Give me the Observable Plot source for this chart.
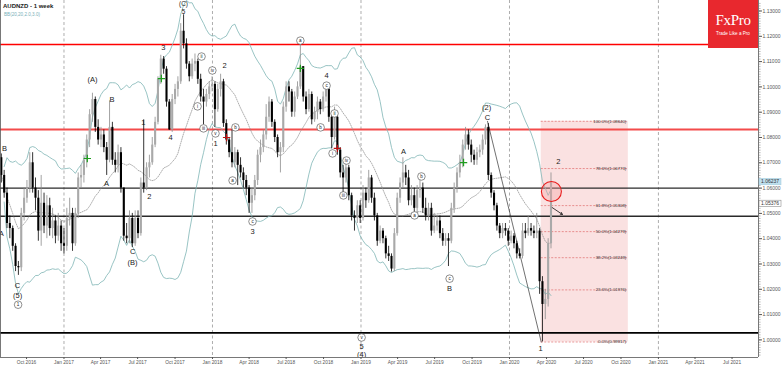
<!DOCTYPE html>
<html><head><meta charset="utf-8">
<script src="https://cdn.jsdelivr.net/npm/d3@7"></script>
<script src="https://cdn.jsdelivr.net/npm/@observablehq/plot@0.6"></script>
<style>
body{margin:0;background:#fff;}
#wrap{position:relative;width:782px;height:366px;overflow:hidden;font-family:"Liberation Sans",Arial,sans-serif;}
#logo{position:absolute;left:708px;top:0;width:50px;height:48px;background:#e8282e;color:#fff;text-align:center;}
#logo .b{font-family:"Liberation Serif","DejaVu Serif",serif;font-size:15px;margin-top:13px;line-height:15px;letter-spacing:-0.3px;}
#logo .s{font-size:4.6px;margin-top:3px;}
</style></head><body><div id="wrap"><div id="logo"><div class="b">FxPro</div><div class="s">Trade Like a Pro</div></div></div>
<script>
// ---- data (weekly AUDNZD, prices x 10000) ----
const symbolTitle = "AUDNZD - 1 week";
const indicatorTitle = "BB(20,20,2.0,3.0)";
const firstWeek = "2016-07-31";
const firstOpen = 10720;
const closePips = [
10650,10580,10460,10440,10370,10290,10285,10500,10560,10600,
10700,10600,10560,10430,10540,10450,10530,10440,10470,10410,
10450,10380,10370,10480,10500,10380,10500,10640,10650,10710,
10790,10890,10950,10840,10790,10810,10760,10710,10840,10710,
10690,10740,10600,10410,10400,10480,10380,10480,10420,10620,
10600,10680,10700,10770,10860,11030,11110,11070,10940,10830,
10950,10990,11020,11220,11170,11090,11040,11090,11100,11030,
10960,10940,10970,11000,11010,10910,10990,11020,10855,10790,
10740,10700,10740,10690,10660,10630,10600,10540,10570,10630,
10730,10760,10810,10880,10940,10860,10800,10740,10760,10920,
11000,10980,10900,10960,11000,11080,10960,10910,10970,10870,
10900,10940,10910,10960,10990,10880,10800,10880,10750,10660,
10640,10680,10570,10490,10480,10530,10480,10580,10550,10640,
10560,10490,10390,10430,10400,10340,10330,10280,10420,10560,
10620,10660,10640,10550,10570,10520,10590,10600,10520,10490,
10520,10430,10450,10470,10420,10390,10400,10390,10520,10600,
10660,10700,10770,10810,10770,10730,10710,10740,10750,10790,
10840,10650,10580,10530,10450,10420,10440,10430,10390,10410,
10380,10340,10330,10430,10420,10440,10430,10420,10430,10230,
10140,10160,10380,10624];
const highPips = [
10735,10670,10600,10490,10450,10380,10310,10520,10600,10630,
10740,10740,10640,10590,10650,10580,10570,10560,10520,10490,
10500,10470,10440,10520,10560,10520,10520,10660,10690,10730,
10810,10910,10975,10960,10870,10840,10830,10780,10945,10860,
10740,10770,10760,10600,10460,10510,10500,10510,10510,10640,
10870,10700,10730,10800,10880,11040,11125,11120,11080,10950,
10970,11010,11040,11250,11285,11190,11100,11110,11130,11110,
11050,10990,10990,11020,11040,11020,11010,11050,11030,10870,
10800,10830,10760,10750,10720,10680,10650,10610,10600,10650,
10750,10790,10830,10930,10960,10950,10870,10810,10780,10940,
11020,11020,10990,10980,11020,11170,11080,10980,10990,10980,
10920,10960,10950,10980,11000,11000,10900,10920,10890,10760,
10690,10720,10690,10580,10510,10550,10550,10610,10600,10670,
10650,10580,10500,10450,10440,10410,10370,10340,10440,10580,
10640,10720,10690,10670,10610,10600,10610,10640,10620,10560,
10540,10540,10500,10490,10490,10440,10420,10420,10540,10620,
10680,10730,10790,10840,10830,10790,10750,10760,10770,10810,
10850,10855,10660,10590,10540,10460,10460,10460,10440,10430,
10420,10390,10360,10460,10460,10490,10460,10450,10500,10440,
10250,10200,10400,10660];
const lowPips = [
10620,10560,10440,10400,10350,10270,10255,10270,10470,10540,
10580,10580,10510,10390,10370,10420,10400,10410,10400,10380,
10390,10350,10340,10350,10450,10350,10370,10480,10600,10620,
10680,10760,10860,10820,10770,10760,10740,10650,10700,10690,
10660,10660,10580,10390,10380,10380,10365,10370,10400,10410,
10580,10590,10640,10690,10760,10850,11010,11050,10920,10828,
10820,10930,10960,11010,11150,11070,11020,11030,11060,11010,
10940,10850,10920,10950,10980,10840,10900,10960,10840,10770,
10720,10680,10680,10610,10640,10600,10570,10500,10500,10550,
10610,10700,10740,10790,10860,10840,10780,10720,10660,10740,
10900,10940,10880,10880,10950,10990,10940,10890,10900,10850,
10860,10870,10890,10900,10940,10860,10755,10790,10730,10640,
10580,10620,10550,10470,10430,10460,10460,10470,10520,10540,
10540,10470,10370,10380,10380,10320,10310,10268,10270,10410,
10540,10600,10610,10530,10530,10490,10500,10560,10500,10470,
10470,10410,10420,10430,10400,10370,10370,10290,10380,10500,
10580,10640,10680,10750,10750,10700,10690,10690,10720,10730,
10770,10630,10560,10510,10430,10400,10400,10410,10370,10380,
10360,10320,10320,10320,10400,10410,10410,10400,10400,10180,
9992,10080,10130,10360];

const resistanceRed = [1.11676, 1.08316];
const levelsBlack = [1.05997, 1.0489];
const bottomLevel = 1.00281;

const fibRatios = [1.0, 0.786, 0.618, 0.5, 0.382, 0.236, 0.0];
const fibPrices = [1.08640, 1.06773, 1.05308, 1.04279, 1.03249, 1.01976, 0.99917];
const fibStart = "2020-03-19", fibEnd = "2020-10-19";
const trendStart = ["2019-11-08", 1.0864];

// [text, week index, price]
const waveLabels = [
 ["B",1.1,1.0757],["A",0,1.0421],["C",5.7,1.0215],["(5)",5.7,1.0175],["(A)",32,1.1029],["B",38.9,1.0950],
 ["A",36.9,1.0618],["C",46.1,1.0349],["(B)",46.1,1.0306],["1",49.9,1.0859],["2",52,1.0567],["3",56.9,1.1156],
 ["4",59.4,1.0800],["1",75.2,1.0776],["2",78.4,1.1085],["3",88.2,1.0428],
 ["4",114.2,1.1045],["5",126.5,0.99739],["(4)",126.5,0.99420],["A",141.2,1.0745],["B",157.4,1.0203],
 ["(2)",170.4,1.0918],["C",170.7,1.0879],["2",195.6,1.0705],["1",189.3,0.99656]
];
const topLabels = [["5",63.96,1.12957],["(C)",63.96,1.13273]];
const circledLabels = [
 ["1",5.9,1.0139],["ii",70.3,1.1120],["i",68.9,1.0923],["iii",71,1.0836],["iv",74.1,1.1065],["v",75.2,1.0816],
 ["b",82.2,1.0840],["a",81.2,1.0630],["c",88.2,1.0468],["a",105,1.1183],["c",114.2,1.1005],["b",112.1,1.0840],
 ["ii",117,1.0895],["i",116.3,1.0737],["iv",121.2,1.0709],["iii",120.1,1.0571],["v",126.5,1.00095],
 ["b",147.5,1.0646],["a",145.1,1.0492],["c",157.4,1.0242]
];
const greenMarks = [[30.2,1.0717],[56.2,1.1033],[105,1.1073],[162.3,1.0701]];
const redMarks = [[79.1,1.0800],[118.0,1.0757]];
const circleMark = ["2020-04-13", 1.05866];
const arrowMark = [["2020-04-15", 1.0523], ["2020-05-10", 1.0496]];
const priceTags = [1.06237, 1.05376];
const yearStarts = ["2017-01-01","2018-01-01","2019-01-01","2020-01-01","2021-01-01"];
const quarterTicks = ["2016-10-01","2017-01-01","2017-04-01","2017-07-01","2017-10-01","2018-01-01","2018-04-01","2018-07-01","2018-10-01","2019-01-01","2019-04-01","2019-07-01","2019-10-01","2020-01-01","2020-04-01","2020-07-01","2020-10-01","2021-01-01","2021-04-01","2021-07-01"];
const yTicks = [1.00,1.01,1.02,1.03,1.04,1.05,1.06,1.07,1.08,1.09,1.10,1.11,1.12,1.13];

// ---- build ----
const t0 = new Date(firstWeek);
const weekDate = i => new Date(t0.getTime() + i * 7 * 864e5);
const weeks = closePips.map((c, i) => ({
  date: weekDate(i),
  open: (i ? closePips[i - 1] : firstOpen) / 1e4,
  high: highPips[i] / 1e4, low: lowPips[i] / 1e4, close: c / 1e4
}));
weeks.forEach(d => d.up = d.close >= d.open);
const toPt = ([t, i, p]) => ({t, date: weekDate(i), p});
const waves = waveLabels.map(toPt);
const tops = topLabels.map(toPt);
const circ = circledLabels.map(toPt);
const bbBand = k => v => {
  const n = v.length; if (n < 2) return NaN;
  const m = d3.mean(v); const sd = Math.sqrt(d3.sum(v, x => (x - m) ** 2) / n);
  return m + k * sd;
};
const fib = fibRatios.map((r, j) => ({r, p: fibPrices[j], label: `${(r * 100).toFixed(1)}%(${fibPrices[j].toFixed(5)})`}));
const minorY = d3.range(994, 1134).map(v => v / 1000);
const yMin = 0.99304, yMax = 1.13415;
const xMin = new Date("2016-07-29"), xMax = new Date("2021-09-04");

const chart = Plot.plot({
  width: 782, height: 366,
  marginLeft: 0, marginRight: 24, marginTop: 0, marginBottom: 9,
  style: {fontFamily: "'Liberation Sans', Arial, sans-serif", background: "transparent", overflow: "visible"},
  x: {type: "utc", domain: [xMin, xMax]},
  y: {domain: [yMin, yMax]},
  marks: [
    Plot.rect([0], {x1: () => new Date(fibStart), x2: () => new Date(fibEnd), y1: () => fibPrices[6], y2: () => fibPrices[0], fill: "#f2b8b8", fillOpacity: 0.42}),
    Plot.ruleY(fib, {y: "p", x1: () => new Date(fibStart), x2: () => new Date(fibEnd), stroke: "#e06a6a", strokeWidth: 0.7, strokeDasharray: "2,1.5"}),
    Plot.ruleX(yearStarts.map(d => new Date(d)), {stroke: "#8a8a8a", strokeWidth: 0.7, strokeDasharray: "3,2.5"}),
    Plot.ruleY([resistanceRed[0]], {stroke: "#ff0000", strokeWidth: 1.4}),
    Plot.ruleY([resistanceRed[1]], {stroke: "#f34b4b", strokeWidth: 2}),
    Plot.ruleY(levelsBlack, {stroke: "#2a2a2a", strokeWidth: 1.4}),
    Plot.ruleY([bottomLevel], {stroke: "#000", strokeWidth: 1.8}),
    Plot.lineY(weeks, Plot.windowY({k: 20, anchor: "end", reduce: bbBand(2)}, {x: "date", y: "close", stroke: "#7fb5b5", strokeWidth: 0.8})),
    Plot.lineY(weeks, Plot.windowY({k: 20, anchor: "end", reduce: bbBand(-2)}, {x: "date", y: "close", stroke: "#7fb5b5", strokeWidth: 0.8})),
    Plot.lineY(weeks, Plot.windowY({k: 20, anchor: "end", reduce: "mean"}, {x: "date", y: "close", stroke: "#8a8a8a", strokeWidth: 0.7, strokeDasharray: "1,1.3"})),
    Plot.line([trendStart, [fibStart, fibPrices[6]]], {x: d => new Date(d[0]), y: d => d[1], stroke: "#333", strokeWidth: 0.7}),
    Plot.ruleX(weeks, {x: "date", y1: "low", y2: "high", stroke: d => d.up ? "#8c8c8c" : "#000", strokeWidth: 0.8}),
    Plot.ruleX(weeks, {x: "date", y1: "open", y2: "close", stroke: d => d.up ? "#a9a9a9" : "#000", strokeWidth: 2.1}),
    Plot.dot(greenMarks, {x: d => weekDate(d[0]), y: d => d[1], symbol: "plus", r: 2.5, stroke: "#1f9e1f", strokeWidth: 1.2}),
    Plot.dot(redMarks, {x: d => weekDate(d[0]), y: d => d[1], symbol: "plus", r: 2.5, stroke: "#c01010", strokeWidth: 1.2}),
    Plot.dot([circleMark], {x: d => new Date(d[0]), y: d => d[1], r: 10, stroke: "#e81c1c", strokeWidth: 1.1, fill: "#f7a0a0", fillOpacity: 0.35}),
    Plot.arrow([arrowMark], {x1: d => new Date(d[0][0]), y1: d => d[0][1], x2: d => new Date(d[1][0]), y2: d => d[1][1], stroke: "#111", strokeWidth: 0.8, headLength: 4}),
    Plot.dot(circ, {x: "date", y: "p", r: 3.8, fill: "#fff", stroke: "#444", strokeWidth: 0.6}),
    Plot.text(circ, {x: "date", y: "p", text: "t", fontSize: 4.6, fill: "#222"}),
    Plot.text(waves, {x: "date", y: "p", text: "t", fontSize: 7.5, fill: "#1a1a1a", clip: true}),
    Plot.text(tops, {x: "date", y: "p", text: "t", fontSize: 6.4, fill: "#1a1a1a"}),
    Plot.text(fib, {x: () => new Date(fibEnd), y: "p", text: "label", dx: -2, textAnchor: "end", fontSize: 4.3, fill: "#333", className: "fiblab"}),
    Plot.axisY({anchor: "right", ticks: minorY, tickSize: 1.6, tickFormat: () => "", stroke: "#777", strokeWidth: 0.5}),
    Plot.axisY({anchor: "right", ticks: yTicks, tickSize: 3, tickPadding: 1, tickFormat: d3.format(".5f"), fontSize: 5, color: "#555"}),
    Plot.axisX({ticks: quarterTicks.map(d => new Date(d)), tickSize: 2, tickPadding: 1, tickFormat: d3.utcFormat("%b %Y"), fontSize: 4.8, color: "#555"}),
    Plot.ruleY([yMin], {stroke: "#555", strokeWidth: 0.8}),
    Plot.ruleX([xMin, xMax], {stroke: "#555", strokeWidth: 0.8})
  ]
});
const wrap = document.getElementById("wrap");
wrap.insertBefore(chart, wrap.firstChild);
const svg = d3.select(chart);
const Y = chart.scale("y");

// boxes behind fib labels
svg.selectAll(".fiblab text").each(function () {
  const b = this.getBBox();
  d3.select(this.parentNode).insert("rect", () => this)
    .attr("x", b.x - 1).attr("y", b.y - 0.3).attr("width", b.width + 2).attr("height", b.height + 0.6)
    .attr("rx", 1.2).attr("fill", "#fff5f5").attr("stroke", "#e58a8a").attr("stroke-width", 0.5);
});
// price tags on the right axis
priceTags.forEach((p, j) => {
  const y = Y.apply(p);
  const g = svg.append("g").attr("text-anchor", "start");
  g.append("rect").attr("x", 759).attr("y", y - 3.2).attr("width", 22).attr("height", 6.4)
    .attr("fill", j === 0 ? "#bfe0ee" : "#fff").attr("stroke", j === 0 ? "#9cc7da" : "#777").attr("stroke-width", 0.5);
  g.append("text").attr("x", 761).attr("y", y + 1.8).attr("font-size", 5).attr("fill", "#333").text(p.toFixed(5));
});
// titles
const tg = svg.append("g").attr("text-anchor", "start");
tg.append("text").attr("x", 3).attr("y", 8).attr("font-size", 6).attr("font-weight", "bold").attr("fill", "#222").text(symbolTitle);
tg.append("text").attr("x", 4).attr("y", 15.5).attr("font-size", 4.6).attr("fill", "#7ab0b8").text(indicatorTitle);
</script>
</body></html>
